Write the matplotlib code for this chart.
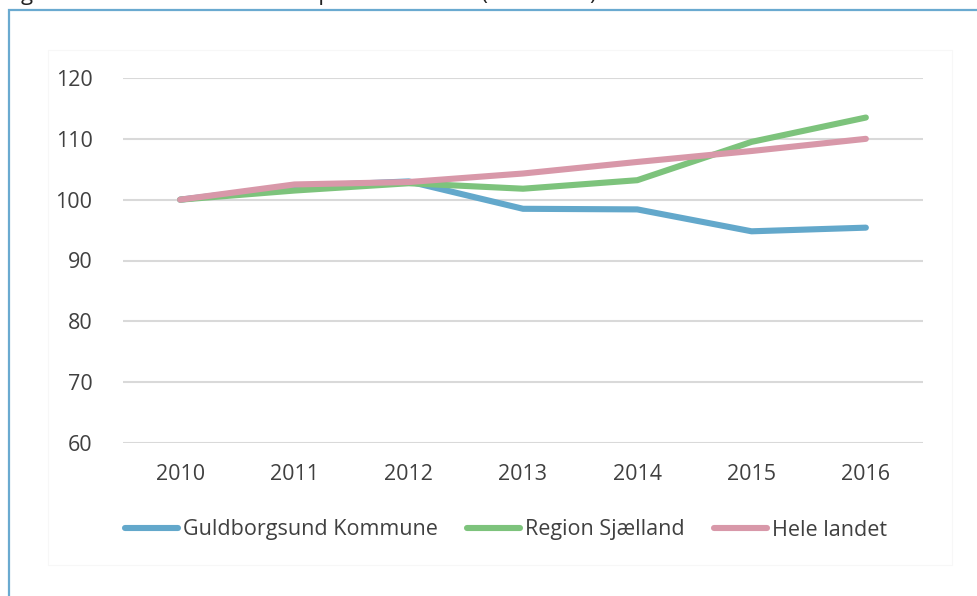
import matplotlib.pyplot as plt
from matplotlib.patches import Rectangle

plt.rcParams["font.family"] = ["Open Sans", "DejaVu Sans"]

# data (index, 2010 = 100)
years = ["2010", "2011", "2012", "2013", "2014", "2015", "2016"]
guldborgsund = [100.0, 102.2, 103.0, 98.5, 98.4, 94.8, 95.4]
region_sjaelland = [100.0, 101.5, 102.7, 101.8, 103.2, 109.5, 113.5]
hele_landet = [100.0, 102.5, 102.9, 104.3, 106.2, 108.0, 110.0]
series_names = ["Guldborgsund Kommune", "Region Sjælland", "Hele landet"]
yticks = [60, 70, 80, 90, 100, 110, 120]

colors = ["#63a8cb", "#7dc37c", "#d898a9"]
text_color = "#404040"
W, H = 978, 596

fig = plt.figure(figsize=(W / 100, H / 100), dpi=100)

# outer blue frame (runs off the right and bottom edge) + faint chart box
fig.patches.append(Rectangle((9 / W, -0.1), 1.2, 1 - 10 / H + 0.1,
                             transform=fig.transFigure, fill=False,
                             edgecolor="#6aaad0", linewidth=1.6))
fig.patches.append(Rectangle((48 / W, 1 - 565 / H), (952 - 48) / W, (565 - 50) / H,
                             transform=fig.transFigure, fill=False,
                             edgecolor="#f7f7f7", linewidth=0.8))

# clipped caption above the frame, only the descenders show (as in the reference)
fig.text(4 / W, 1.0, "Figur 4: Antal fuldtidsansatte i private erhverv (2010=100)",
         fontsize=16, color="#222222", va="baseline", ha="left")

ax = fig.add_axes([123 / W, 1 - 443 / H, 800 / W, 365 / H])
x = range(len(years))
for vals, c, name in zip([guldborgsund, region_sjaelland, hele_landet], colors, series_names):
    ax.plot(x, vals, color=c, linewidth=4.4, solid_capstyle="round",
            solid_joinstyle="round", label=name)

ax.set_xlim(-0.5, len(years) - 0.5)
ax.set_ylim(60, 120)
ax.set_yticks(yticks)
ax.set_xticks(list(x))
ax.set_xticklabels(years)
ax.grid(axis="y", color="#d9d9d9", linewidth=1.5)
ax.set_axisbelow(True)
for s in ax.spines.values():
    s.set_visible(False)
ax.tick_params(axis="both", length=0, labelsize=15.5, colors=text_color)
ax.tick_params(axis="y", pad=22)
ax.tick_params(axis="x", pad=15)

fig.legend(loc="center left", bbox_to_anchor=(125 / W, 1 - 530 / H), ncol=3,
           frameon=False, fontsize=15.5, handlelength=2.45, handletextpad=0.25,
           columnspacing=1.35, borderpad=0, borderaxespad=0, labelcolor=text_color)

fig.savefig("out.png", dpi=100, facecolor="white")
